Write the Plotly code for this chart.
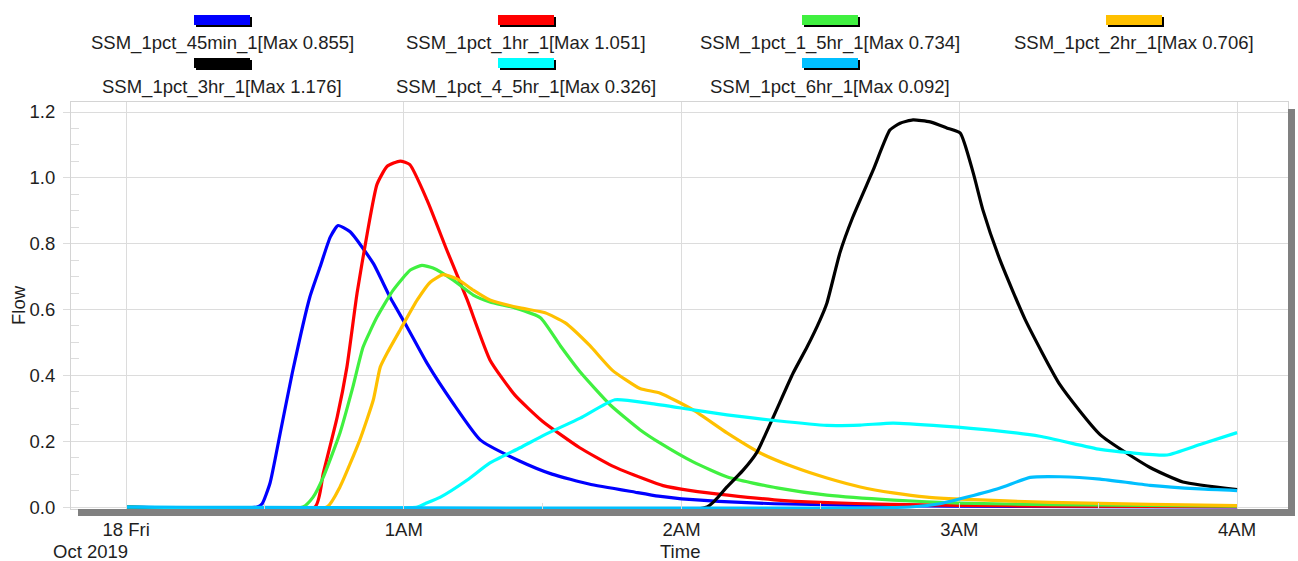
import pandas as pd
import plotly.graph_objects as go

# ---------------- data (minutes after 2019-10-18 00:00, flow) ----------------
series_names = [
    "SSM_1pct_45min_1", "SSM_1pct_1hr_1", "SSM_1pct_1_5hr_1", "SSM_1pct_2hr_1",
    "SSM_1pct_3hr_1", "SSM_1pct_4_5hr_1", "SSM_1pct_6hr_1",
]
series_colors = ["#0000FF", "#FF0000", "#40F040", "#FFC000", "#000000", "#00FFFF", "#00BFFF"]

t_45min = [0, 28.3, 29.4, 31.1, 33.3, 35.9, 39.7, 41.9, 44.1, 45.8, 48.4, 53.4, 57.0, 60.7,
           65.0, 70.6, 76.5, 85, 92, 100, 110, 115, 120, 128, 140, 156, 178, 210, 240]
v_45min = [0, 0, 0.01, 0.073, 0.225, 0.407, 0.638, 0.729, 0.82, 0.855, 0.836, 0.74, 0.638, 0.547,
           0.437, 0.316, 0.204, 0.14, 0.10, 0.07, 0.045, 0.033, 0.025, 0.017, 0.01, 0.006, 0.003, 0.001, 0.0]

t_1hr = [0, 40.8, 42.6, 45.6, 47.7, 49.9, 52.1, 54.2, 56.4, 59.2, 61.3, 65.0, 69.3, 73.7, 78.6,
         84, 90, 98, 105, 112, 116, 122, 130, 140, 150, 165, 180, 200, 240]
v_1hr = [0, 0, 0.103, 0.273, 0.425, 0.65, 0.832, 0.98, 1.035, 1.051, 1.04, 0.933, 0.78, 0.629, 0.447,
         0.34, 0.26, 0.18, 0.125, 0.085, 0.065, 0.05, 0.036, 0.022, 0.014, 0.008, 0.005, 0.003, 0.001]

t_1_5hr = [0, 38.2, 40.4, 42.6, 46.2, 49.0, 51.2, 54.2, 57.7, 61.4, 63.9, 66.3, 70.6, 75.0, 78.6,
           84.0, 89.5, 93.8, 98.1, 104.6, 111.0, 115.4, 122.5, 129.9, 140.6, 151.4, 165.7, 180, 200, 240]
v_1_5hr = [0, 0, 0.03, 0.091, 0.225, 0.365, 0.486, 0.577, 0.659, 0.72, 0.734, 0.726, 0.69, 0.644, 0.623,
           0.605, 0.575, 0.49, 0.41, 0.31, 0.235, 0.194, 0.137, 0.091, 0.058, 0.036, 0.021, 0.012, 0.007, 0.003]

t_2hr = [0, 43.4, 46.2, 50.5, 53.4, 54.9, 56.4, 59.2, 62.9, 65.7, 68.5, 71.5, 75.0, 78.6, 85.1,
         90.5, 94.8, 100.2, 105.0, 111.0, 115.4, 122.5, 129.8, 137.0, 144.1, 151.4, 158.6, 165.7,
         173.0, 180.2, 199.6, 221, 240]
v_2hr = [0, 0, 0.061, 0.204, 0.325, 0.425, 0.468, 0.538, 0.629, 0.683, 0.706, 0.693, 0.659, 0.629, 0.605,
         0.59, 0.56, 0.49, 0.416, 0.36, 0.346, 0.295, 0.225, 0.164, 0.122, 0.088, 0.061, 0.043,
         0.03, 0.024, 0.014, 0.008, 0.004]

t_3hr = [0, 125.5, 129.8, 133.3, 136.3, 139.8, 144.1, 147.1, 149.9, 151.4, 154.2, 157.0, 161.4,
         165.0, 167.2, 170.0, 173.7, 177.4, 180.2, 183.0, 185.1, 188.8, 194.2, 201.8, 210.4, 221.2,
         228.3, 240]
v_3hr = [0, 0, 0.061, 0.112, 0.167, 0.273, 0.407, 0.486, 0.568, 0.62, 0.772, 0.881, 1.024,
         1.145, 1.166, 1.176, 1.17, 1.151, 1.136, 1.015, 0.902, 0.75, 0.57, 0.37, 0.22, 0.12,
         0.076, 0.053]

t_4_5hr = [0, 62.9, 64.6, 67.9, 73.7, 78.6, 85.1, 90.5, 98.1, 105.6, 113.2, 122.5, 129.8, 140.6,
           151.4, 158.6, 165.7, 176.5, 187.3, 197.4, 210.4, 216.9, 224.9, 232, 240]
v_4_5hr = [0, 0, 0.01, 0.03, 0.082, 0.134, 0.18, 0.22, 0.27, 0.326, 0.315, 0.295, 0.28, 0.262,
           0.248, 0.249, 0.255, 0.246, 0.233, 0.215, 0.175, 0.165, 0.158, 0.19, 0.226]

t_6hr = [0, 169.4, 175.8, 180.2, 188.8, 195.3, 201.8, 210.4, 221.2, 232, 240]
v_6hr = [0, 0, 0.01, 0.025, 0.058, 0.09, 0.092, 0.085, 0.066, 0.055, 0.05]

series_times = [t_45min, t_1hr, t_1_5hr, t_2hr, t_3hr, t_4_5hr, t_6hr]
series_values = [v_45min, v_1hr, v_1_5hr, v_2hr, v_3hr, v_4_5hr, v_6hr]

start = pd.Timestamp("2019-10-18 00:00:00")
x_tick_hours = [0, 1, 2, 3, 4]
x_tick_labels = ["18 Fri", "1AM", "2AM", "3AM", "4AM"]
y_tick_vals = [0.0, 0.2, 0.4, 0.6, 0.8, 1.0, 1.2]

# ---------------- layout geometry (pixels) ----------------
W, H = 1298, 561
L, R, T, B = 71, 1288, 102, 509
PW, PH = R - L, B - T
FONT = "Liberation Sans, Arial, sans-serif"
TXT = "#1e1e1e"
FS = 18.5


def px(xp):
    return (xp - L) / PW


def py(yp):
    return (B - yp) / PH


fig = go.Figure()
for name, col, tt, vv in zip(series_names, series_colors, series_times, series_values):
    fig.add_trace(go.Scatter(
        x=[start + pd.Timedelta(minutes=m) for m in tt], y=vv, mode="lines", name=name,
        line=dict(color=col, width=3.2, shape="spline", smoothing=0.5), showlegend=False,
    ))

shapes = []
annotations = []
# drop shadow of the plot frame
shapes.append(dict(type="rect", xref="paper", yref="paper", x0=px(L + 7), x1=px(R + 7),
                   y0=py(B + 7), y1=py(B), fillcolor="#808080", line_width=0, layer="above"))
shapes.append(dict(type="rect", xref="paper", yref="paper", x0=px(R), x1=px(R + 7),
                   y0=py(B + 7), y1=py(T + 7), fillcolor="#808080", line_width=0, layer="above"))

# custom legend: swatch above centred label
col_centers = [222, 526, 830, 1134]
row_swatch_top = [15, 58]
row_text_y = [43, 87]
for i, (name, col, vv) in enumerate(zip(series_names, series_colors, series_values)):
    r, c = divmod(i, 4)
    cx = col_centers[c]
    sy = row_swatch_top[r]
    shapes.append(dict(type="rect", xref="paper", yref="paper", x0=px(cx - 26), x1=px(cx + 30),
                       y0=py(sy + 12), y1=py(sy + 2), fillcolor="#000000", line_width=0))
    shapes.append(dict(type="rect", xref="paper", yref="paper", x0=px(cx - 28), x1=px(cx + 28),
                       y0=py(sy + 10), y1=py(sy), fillcolor=col, line_width=0))
    annotations.append(dict(xref="paper", yref="paper", x=px(cx), y=py(row_text_y[r]),
                            text=f"{name}[Max {max(vv):.3f}]", showarrow=False,
                            xanchor="center", yanchor="middle",
                            font=dict(family=FONT, size=FS, color=TXT)))

annotations.append(dict(xref="paper", yref="paper", x=px(90), y=py(551), text="Oct 2019",
                        showarrow=False, xanchor="center", yanchor="middle",
                        font=dict(family=FONT, size=FS, color=TXT)))
annotations.append(dict(xref="paper", yref="paper", x=px(680), y=py(551), text="Time",
                        showarrow=False, xanchor="center", yanchor="middle",
                        font=dict(family=FONT, size=FS, color=TXT)))
annotations.append(dict(xref="paper", yref="paper", x=px(18), y=py(305), text="Flow",
                        showarrow=False, textangle=-90, xanchor="center", yanchor="middle",
                        font=dict(family=FONT, size=FS, color=TXT)))

fig.update_layout(
    width=W, height=H, autosize=False,
    margin=dict(l=L, r=W - R, t=T, b=H - B, pad=0),
    paper_bgcolor="white", plot_bgcolor="white",
    font=dict(family=FONT, size=FS, color=TXT),
    shapes=shapes, annotations=annotations,
    showlegend=False,
)
fig.update_xaxes(
    type="date",
    range=[start - pd.Timedelta(minutes=11.9), start + pd.Timedelta(minutes=251.0)],
    tickvals=[start + pd.Timedelta(hours=h) for h in x_tick_hours], ticktext=x_tick_labels,
    showgrid=True, gridcolor="#dcdcdc", gridwidth=1,
    ticks="outside", ticklen=4, tickcolor="#dcdcdc",
    minor=dict(dtick=30 * 60 * 1000, ticks="inside", ticklen=6, tickcolor="#dcdcdc", showgrid=False),
    showline=True, linecolor="#d4d4d4", mirror=True, zeroline=False,
    tickfont=dict(family=FONT, size=FS, color=TXT),
)
fig.update_yaxes(
    range=[-0.006, 1.2304], tickvals=y_tick_vals, tickformat=".1f",
    showgrid=True, gridcolor="#dcdcdc", gridwidth=1,
    ticks="outside", ticklen=7, tickcolor="#dcdcdc", ticklabelstandoff=4,
    minor=dict(dtick=0.05, ticks="inside", ticklen=8, tickcolor="#dcdcdc", showgrid=False),
    showline=True, linecolor="#d4d4d4", mirror=True, zeroline=False,
    tickfont=dict(family=FONT, size=FS, color=TXT),
)

fig.write_html("out.html", config={"displayModeBar": False},
               post_script="document.body.style.margin='0px';")
